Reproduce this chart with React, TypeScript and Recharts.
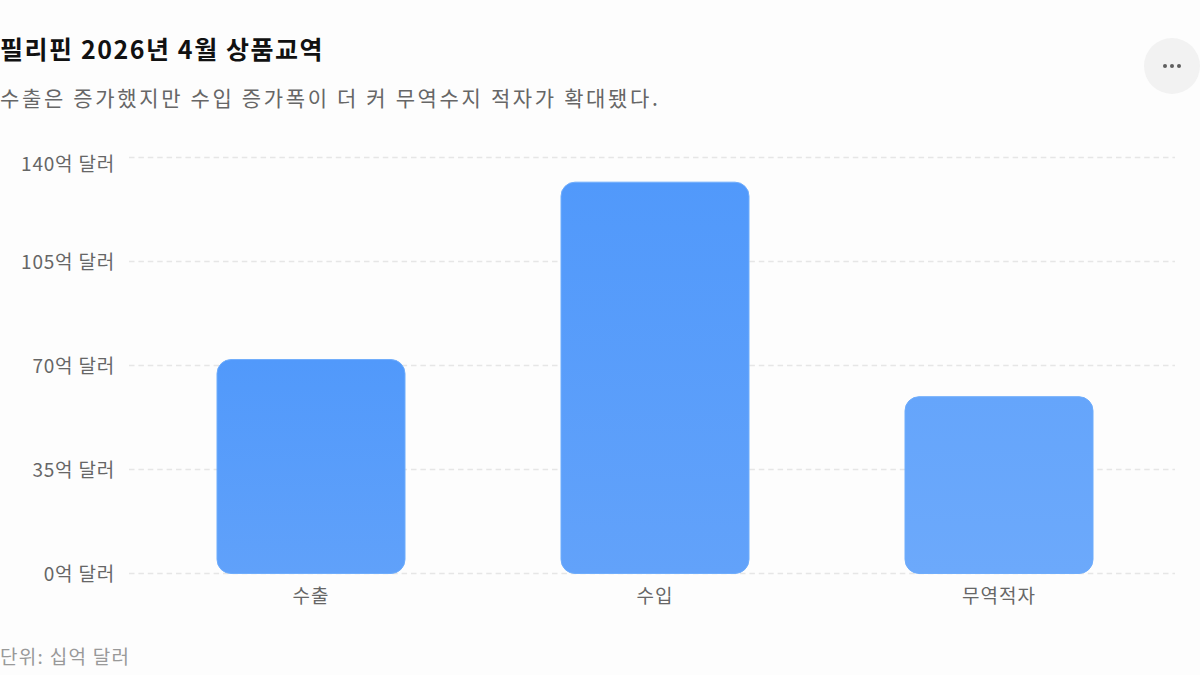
import { BarChart, Bar, Cell, XAxis, YAxis, CartesianGrid } from "recharts";

const CATEGORIES = ["수출", "수입", "무역적자"];
const VALUES = [72.0, 131.7, 59.5];
const Y_TICKS = [0, 35, 70, 105, 140];
const BAR_GRADIENTS = [
  ["#5199fb", "#60a1fa"],
  ["#5199fb", "#62a2fa"],
  ["#65a5fb", "#6ca9fb"],
];

const TITLE = "필리핀 2026년 4월 상품교역";
const SUBTITLE = "수출은 증가했지만 수입 증가폭이 더 커 무역수지 적자가 확대됐다.";
const UNIT_NOTE = "단위: 십억 달러";

const FONT = '"Noto Sans CJK KR", "Noto Sans", sans-serif';

const data = CATEGORIES.map((name, i) => ({ name, value: VALUES[i] }));

// the top label sits a little below its grid line in the original
function YTick({ x, y, payload }: any) {
  const shift = payload.value === 140 ? 6 : 0;
  return (
    <text
      x={x}
      y={y + shift}
      dy={7}
      textAnchor="end"
      fill="#666"
      fontSize={19}
      fontFamily={FONT}
      letterSpacing={0.8}
    >
      {`${payload.value}억 달러`}
    </text>
  );
}

function XTick({ x, y, payload }: any) {
  return (
    <text
      x={x}
      y={y}
      dy={16}
      textAnchor="middle"
      fill="#666"
      fontSize={19}
      fontFamily={FONT}
      letterSpacing={1}
    >
      {payload.value}
    </text>
  );
}

export default function App() {
  return (
    <div
      style={{
        position: "fixed",
        left: 0,
        top: 0,
        width: 1200,
        height: 675,
        background: "#fdfdfd",
        fontFamily: FONT,
        overflow: "hidden",
      }}
    >
      <div
        style={{
          position: "absolute",
          left: 0,
          top: 31,
          fontSize: 25,
          lineHeight: "34px",
          fontWeight: 700,
          color: "#111",
          letterSpacing: 1.55,
          whiteSpace: "nowrap",
        }}
      >
        {TITLE}
      </div>
      <div
        style={{
          position: "absolute",
          left: 0,
          top: 82,
          fontSize: 21,
          lineHeight: "30px",
          color: "#666",
          letterSpacing: 2.65,
          whiteSpace: "nowrap",
        }}
      >
        {SUBTITLE}
      </div>

      <div
        style={{
          position: "absolute",
          left: 1144,
          top: 38,
          width: 56,
          height: 56,
          borderRadius: "50%",
          background: "#f2f2f2",
        }}
      >
        <svg width={56} height={56}>
          <circle cx={21} cy={28} r={2} fill="#5f5f5f" />
          <circle cx={28} cy={28} r={2} fill="#5f5f5f" />
          <circle cx={35} cy={28} r={2} fill="#5f5f5f" />
        </svg>
      </div>

      <div style={{ position: "absolute", left: 0, top: 0 }}>
        <BarChart
          width={1200}
          height={640}
          data={data}
          margin={{ top: 157.5, right: 25, bottom: 36.5, left: 0 }}
        >
          <defs>
            {BAR_GRADIENTS.map((g, i) => (
              <linearGradient key={i} id={`barFill${i}`} x1="0" y1="0" x2="0" y2="1">
                <stop offset="0%" stopColor={g[0]} />
                <stop offset="100%" stopColor={g[1]} />
              </linearGradient>
            ))}
          </defs>
          <CartesianGrid vertical={false} stroke="#e6e6e6" strokeWidth={1.6} strokeDasharray="5.5 3.9" />
          <XAxis
            dataKey="name"
            axisLine={false}
            tickLine={false}
            padding={{ left: 10, right: 4 }}
            tick={<XTick />}
            tickMargin={7}
          />
          <YAxis
            width={129}
            domain={[0, 140]}
            ticks={Y_TICKS}
            axisLine={false}
            tickLine={false}
            tickMargin={8}
            tick={<YTick />}
          />
          <Bar dataKey="value" barSize={188} radius={14} stroke="#6fadfc" strokeWidth={1} isAnimationActive={false}>
            {data.map((d, i) => (
              <Cell key={d.name} fill={`url(#barFill${i})`} />
            ))}
          </Bar>
        </BarChart>
      </div>

      <div
        style={{
          position: "absolute",
          left: 0,
          top: 642,
          fontSize: 19,
          lineHeight: "28px",
          color: "#999",
          letterSpacing: 1.3,
          whiteSpace: "nowrap",
        }}
      >
        {UNIT_NOTE}
      </div>
    </div>
  );
}
